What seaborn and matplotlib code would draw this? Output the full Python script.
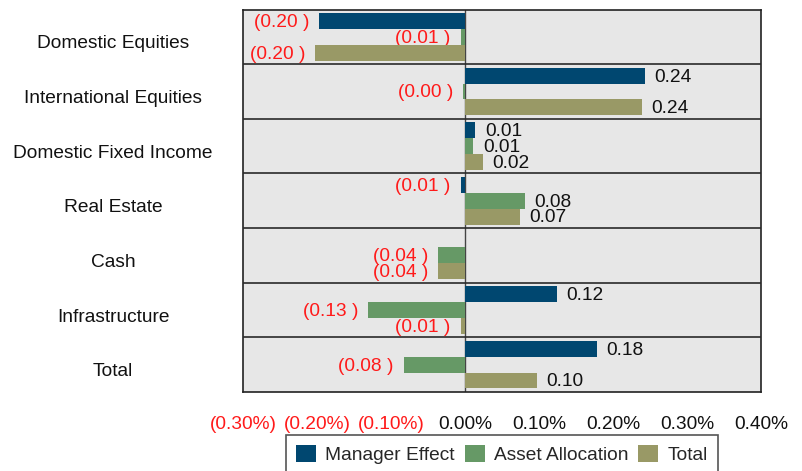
import matplotlib
matplotlib.use("Agg")
import matplotlib.pyplot as plt
import matplotlib.transforms as mtransforms
import seaborn as sns
import pandas as pd

categories = ["Domestic Equities", "International Equities", "Domestic Fixed Income",
              "Real Estate", "Cash", "Infrastructure", "Total"]
series = ["Manager Effect", "Asset Allocation", "Total"]
manager_effect = [-0.197, 0.243, 0.014, -0.006, 0.0, 0.124, 0.178]
asset_allocation = [-0.006, -0.003, 0.011, 0.081, -0.036, -0.131, -0.083]
total = [-0.203, 0.239, 0.024, 0.074, -0.036, -0.006, 0.097]
xticks = [-0.3, -0.2, -0.1, 0.0, 0.1, 0.2, 0.3, 0.4]
xtick_labels = ["(0.30%)", "(0.20%)", "(0.10%)", "0.00%", "0.10%", "0.20%", "0.30%", "0.40%"]
colors = ["#004770", "#669966", "#999966"]

sns.set_style("white")
plt.rcParams["font.family"] = ["Liberation Sans", "DejaVu Sans"]

rows = []
for s, vals in zip(series, [manager_effect, asset_allocation, total]):
    for c, v in zip(categories, vals):
        rows.append({"Category": c, "Series": s, "Value": v})
df = pd.DataFrame(rows)

fig = plt.figure(figsize=(8.02, 4.71), dpi=100)
ax = fig.add_axes([243 / 802, 1 - 392 / 471, (761 - 243) / 802, (392 - 9.5) / 471])

sns.barplot(data=df, y="Category", x="Value", hue="Series", order=categories,
            hue_order=series, palette=colors, orient="h", width=0.87,
            saturation=1, linewidth=0, edgecolor="none", ax=ax, zorder=2)

ax.set_facecolor("#e7e7e7")
ax.set_xlim(-0.3, 0.4)
ax.set_ylim(len(categories) - 0.5, -0.5)
ax.set_xlabel("")
ax.set_ylabel("")

# row separators and zero line
for i in range(len(categories) - 1):
    ax.axhline(i + 0.5, color="#2a2a2a", lw=1.2, zorder=3)
ax.axvline(0, color="#444444", lw=1.0, zorder=1.5)

for sp in ax.spines.values():
    sp.set_color("#222222")
    sp.set_linewidth(1.2)

fs = 13.8
ax.set_xticks(xticks)
ax.set_xticklabels(xtick_labels, fontsize=fs)
for lbl, v in zip(ax.get_xticklabels(), xticks):
    lbl.set_color("#ff1a1a" if v < 0 else "#111111")
ax.tick_params(axis="x", direction="out", length=6.5, width=1, color="#444444", pad=11)

ax.set_yticks(range(len(categories)))
ax.set_yticklabels(categories, fontsize=fs, ha="center", color="#111111")
ax.tick_params(axis="y", length=0, pad=93.6)
offset = mtransforms.ScaledTranslation(0, -0.05, fig.dpi_scale_trans)
for lbl in ax.get_yticklabels():
    lbl.set_transform(lbl.get_transform() + offset)

# value labels
for cont in ax.containers:
    for bar in cont:
        v = bar.get_width()
        yc = bar.get_y() + bar.get_height() / 2
        if v < 0:
            ax.annotate(f"({abs(v):.2f} )", xy=(v, yc), xytext=(-7, -1),
                        textcoords="offset points", ha="right", va="center",
                        color="#ff1a1a", fontsize=fs, zorder=1.8)
        elif v > 0:
            ax.annotate(f"{v:.2f}", xy=(v, yc), xytext=(7, -1),
                        textcoords="offset points", ha="left", va="center",
                        color="#111111", fontsize=fs, zorder=1.8)

handles, labels = ax.get_legend_handles_labels()
leg = ax.legend(handles, labels, loc="upper center", bbox_to_anchor=(0.5, -0.088),
                ncol=3, frameon=True, fancybox=False, fontsize=fs,
                handlelength=1.05, handleheight=1.0, handletextpad=0.5,
                columnspacing=0.5, borderpad=0.5, framealpha=1)
leg.get_frame().set_edgecolor("#555555")
leg.get_frame().set_linewidth(1.2)

fig.savefig("out.png", dpi=100)
